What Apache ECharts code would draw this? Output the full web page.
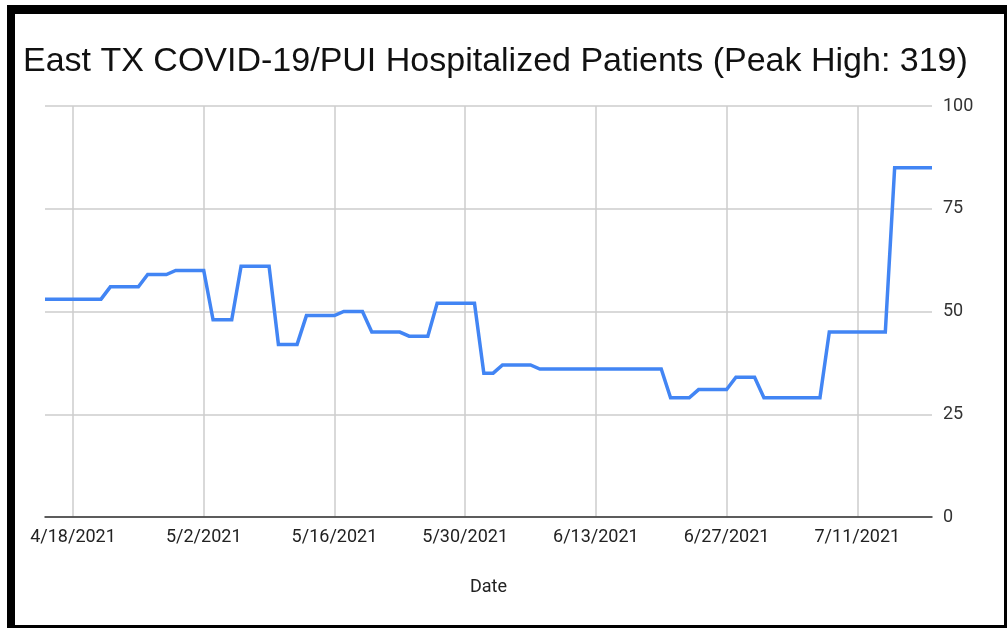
<!DOCTYPE html>
<html>
<head>
<meta charset="utf-8">
<script src="https://cdn.jsdelivr.net/npm/echarts@6/dist/echarts.min.js"></script>
<style>
html,body{margin:0;padding:0;background:#fff;}
#chart{width:1007px;height:628px;}
</style>
</head>
<body>
<div id="chart"></div>
<script>
var titleText = 'East TX COVID-19/PUI Hospitalized Patients (Peak High: 319)';
var xAxisName = 'Date';
var dates = [
 '4/15/2021','4/16/2021','4/17/2021','4/18/2021','4/19/2021','4/20/2021','4/21/2021','4/22/2021','4/23/2021','4/24/2021','4/25/2021','4/26/2021','4/27/2021','4/28/2021','4/29/2021','4/30/2021',
 '5/1/2021','5/2/2021','5/3/2021','5/4/2021','5/5/2021','5/6/2021','5/7/2021','5/8/2021','5/9/2021','5/10/2021','5/11/2021','5/12/2021','5/13/2021','5/14/2021','5/15/2021','5/16/2021',
 '5/17/2021','5/18/2021','5/19/2021','5/20/2021','5/21/2021','5/22/2021','5/23/2021','5/24/2021','5/25/2021','5/26/2021','5/27/2021','5/28/2021','5/29/2021','5/30/2021','5/31/2021',
 '6/1/2021','6/2/2021','6/3/2021','6/4/2021','6/5/2021','6/6/2021','6/7/2021','6/8/2021','6/9/2021','6/10/2021','6/11/2021','6/12/2021','6/13/2021','6/14/2021','6/15/2021','6/16/2021',
 '6/17/2021','6/18/2021','6/19/2021','6/20/2021','6/21/2021','6/22/2021','6/23/2021','6/24/2021','6/25/2021','6/26/2021','6/27/2021','6/28/2021','6/29/2021','6/30/2021',
 '7/1/2021','7/2/2021','7/3/2021','7/4/2021','7/5/2021','7/6/2021','7/7/2021','7/8/2021','7/9/2021','7/10/2021','7/11/2021','7/12/2021','7/13/2021','7/14/2021','7/15/2021','7/16/2021','7/17/2021','7/18/2021','7/19/2021'
];
var patients = [
 53,53,53,53,53,53,53,56,56,56,56,59,59,59,60,60,
 60,60,48,48,48,61,61,61,61,42,42,42,49,49,49,49,
 50,50,50,45,45,45,45,44,44,44,52,52,52,52,52,
 35,35,37,37,37,37,36,36,36,36,36,36,36,36,36,36,
 36,36,36,36,29,29,29,31,31,31,31,34,34,34,
 29,29,29,29,29,29,29,45,45,45,45,45,45,45,85,85,85,85,85
];
var yTicks = [0, 25, 50, 75, 100];
var labelDates = ['4/18/2021','5/2/2021','5/16/2021','5/30/2021','6/13/2021','6/27/2021','7/11/2021'];

var isLabelDate = function (idx) { return labelDates.indexOf(dates[idx]) >= 0; };

var chart = echarts.init(document.getElementById('chart'), null, {renderer: 'canvas'});
chart.setOption({
  backgroundColor: '#ffffff',
  animation: false,
  title: {
    text: titleText,
    left: 18,
    top: 40,
    textStyle: {fontFamily: 'Liberation Sans', fontSize: 34, fontWeight: 'normal', color: '#111'}
  },
  grid: {left: 45, right: 75, top: 106, bottom: 111, containLabel: false},
  xAxis: {
    type: 'category',
    data: dates,
    boundaryGap: false,
    name: xAxisName,
    nameLocation: 'middle',
    nameGap: 61,
    nameTextStyle: {fontFamily: 'Roboto', fontSize: 18, color: '#222'},
    axisLine: {show: true, lineStyle: {color: '#333', width: 1.5}},
    axisTick: {show: false},
    axisLabel: {
      interval: function (idx) { return isLabelDate(idx); },
      margin: 11,
      fontFamily: 'Roboto', fontSize: 18, color: '#222'
    },
    splitLine: {
      show: true,
      interval: function (idx) { return isLabelDate(idx); },
      lineStyle: {color: '#cccccc', width: 1.5}
    }
  },
  yAxis: {
    type: 'value',
    position: 'right',
    min: yTicks[0],
    max: yTicks[yTicks.length - 1],
    interval: 25,
    axisLine: {show: false},
    axisTick: {show: false},
    axisLabel: {margin: 11, fontFamily: 'Roboto', fontSize: 18, color: '#333'},
    splitLine: {show: true, lineStyle: {color: '#cccccc', width: 1.5}}
  },
  series: [{
    type: 'line',
    data: patients,
    showSymbol: false,
    symbol: 'none',
    lineStyle: {color: '#4285F4', width: 3.5, join: 'miter'},
    z: 5
  }],
  graphic: [
    {type: 'rect', shape: {x: 7, y: 5, width: 1000, height: 9}, style: {fill: '#000'}},
    {type: 'rect', shape: {x: 7, y: 5, width: 8, height: 623}, style: {fill: '#000'}},
    {type: 'rect', shape: {x: 1004, y: 5, width: 3, height: 623}, style: {fill: '#000'}},
    {type: 'rect', shape: {x: 7, y: 625, width: 1000, height: 3}, style: {fill: '#000'}}
  ]
});
</script>
</body>
</html>
